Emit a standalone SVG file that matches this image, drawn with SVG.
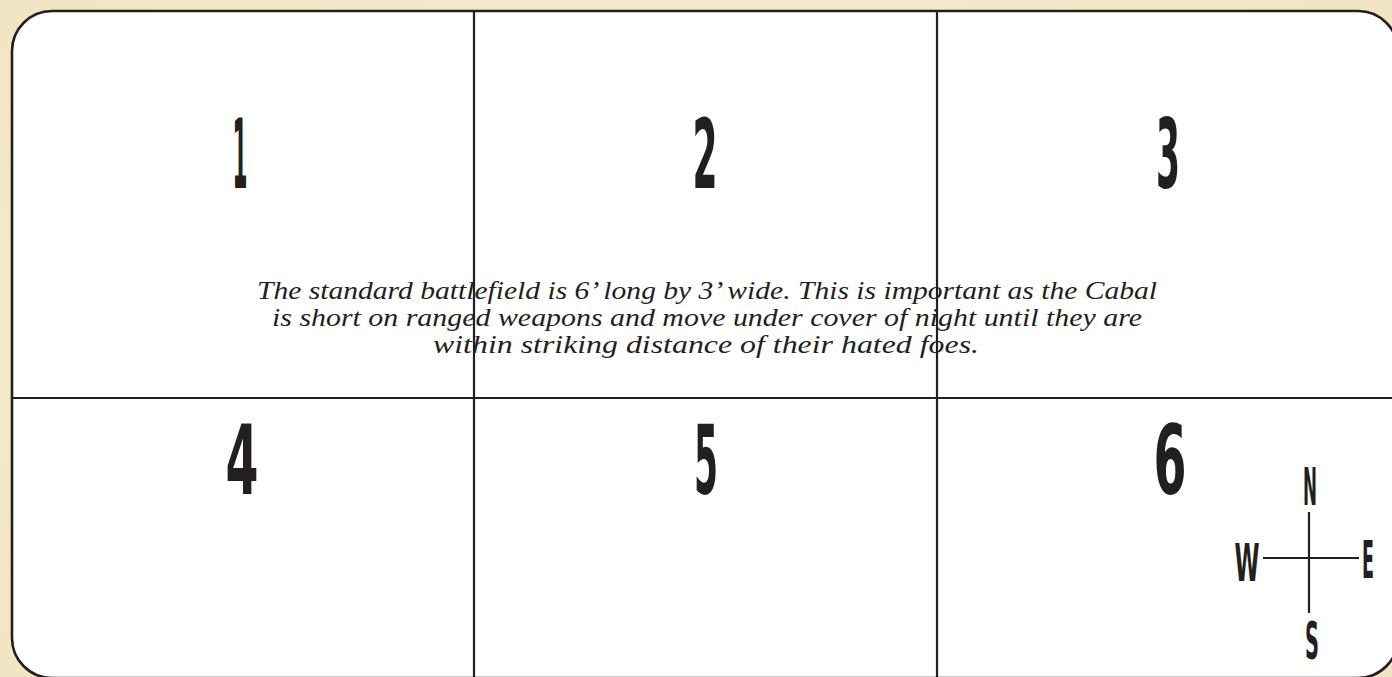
<svg xmlns="http://www.w3.org/2000/svg" width="1392" height="677" viewBox="0 0 1392 677">
<style>
.ln{stroke:#231f20;stroke-width:2.2;fill:none}
.num{font-family:"DejaVu Sans Condensed","DejaVu Sans",sans-serif;font-weight:bold;font-size:96px;fill:#231f20;text-anchor:middle}
.cmp{font-family:"DejaVu Sans Condensed","DejaVu Sans",sans-serif;font-weight:bold;font-size:52px;fill:#231f20;text-anchor:middle}
.para{font-family:"Liberation Serif","Times New Roman",serif;font-style:italic;font-size:25.5px;fill:#231f20;text-anchor:middle}
</style>
<defs>
<radialGradient id="bg" cx="50%" cy="50%" r="75%">
<stop offset="0" stop-color="#f8f0db"/>
<stop offset="1" stop-color="#f1e4c2"/>
</radialGradient>
</defs>
<rect x="0" y="0" width="1392" height="677" fill="url(#bg)"/>
<g id="board">
<rect x="12" y="11" width="1386" height="667" rx="40" ry="40" fill="#ffffff" stroke="#231f20" stroke-width="2.6"/>
</g>
<g id="zone1"><text class="num" x="240" y="188" textLength="15" lengthAdjust="spacingAndGlyphs">1</text></g>
<g id="zone2"><text class="num" x="705" y="188" textLength="25" lengthAdjust="spacingAndGlyphs">2</text></g>
<g id="zone3"><text class="num" x="1168" y="188" textLength="24" lengthAdjust="spacingAndGlyphs">3</text></g>
<g id="zone4"><text class="num" x="242" y="494" textLength="33" lengthAdjust="spacingAndGlyphs">4</text></g>
<g id="zone5"><text class="num" x="706" y="494" textLength="24" lengthAdjust="spacingAndGlyphs">5</text></g>
<g id="zone6"><text class="num" x="1170" y="494" textLength="33" lengthAdjust="spacingAndGlyphs">6</text></g>
<g id="note">
<text class="para" x="707" y="299" textLength="900" lengthAdjust="spacingAndGlyphs">The standard battlefield is 6’ long by 3’ wide. This is important as the Cabal</text>
<text class="para" x="707" y="326" textLength="870" lengthAdjust="spacingAndGlyphs">is short on ranged weapons and move under cover of night until they are</text>
<text class="para" x="706" y="353" textLength="546" lengthAdjust="spacingAndGlyphs">within striking distance of their hated foes.</text>
</g>
<g id="grid">
<line class="ln" x1="474" y1="11" x2="474" y2="678"/>
<line class="ln" x1="937" y1="11" x2="937" y2="678"/>
<line class="ln" x1="12" y1="398" x2="1398" y2="398"/>
</g>
<g id="compass">
<line class="ln" x1="1309" y1="512" x2="1309" y2="613"/>
<line class="ln" x1="1263" y1="558" x2="1359" y2="558"/>
<text class="cmp" x="1310" y="505" textLength="14" lengthAdjust="spacingAndGlyphs">N</text>
<text class="cmp" x="1247" y="581" textLength="25" lengthAdjust="spacingAndGlyphs">W</text>
<text class="cmp" x="1368" y="578" textLength="12" lengthAdjust="spacingAndGlyphs">E</text>
<text class="cmp" x="1312" y="659" textLength="14" lengthAdjust="spacingAndGlyphs">S</text>
</g>
</svg>
